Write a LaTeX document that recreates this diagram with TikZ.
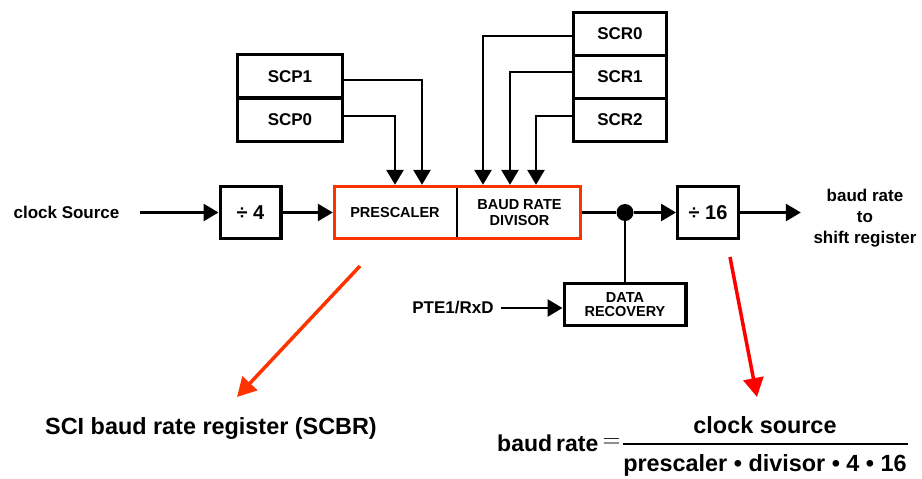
\documentclass[tikz,border=0pt]{standalone}
\usepackage{fontspec}
\setmainfont{Liberation Sans}
\usetikzlibrary{arrows.meta,fit}
\definecolor{orred}{HTML}{FF3300}
\newcommand{\fsz}[2]{\fontsize{#1}{#2}\selectfont}
\begin{document}
\begin{tikzpicture}[x=1pt,y=-1pt,
  box/.style={draw, line width=3.2pt, inner sep=0pt, font=\bfseries\fsz{17pt}{20pt}},
  lbl/.style={inner sep=0pt, font=\bfseries\fsz{17pt}{20pt}},
  conn/.style={line width=2.8pt},
  arr/.style={conn, -{Triangle[length=15pt,width=17pt]}},
  redarr/.style={line width=3.5pt, -{Triangle[length=19pt,width=20pt]}},
]
\useasboundingbox (0,0) rectangle (922,479);

% input chain
\node[lbl] (clk) at (66.5,212.5) {clock Source};
\node[box, minimum width=60.8pt, minimum height=51.8pt, font=\bfseries\fsz{20pt}{22pt}] (d4) at (250.5,212.5) {÷ 4};
\draw[arr] ([xshift=20pt]clk.east) -- (d4.west);

% prescaler / baud rate divisor
\node[minimum width=124pt, minimum height=55pt, inner sep=0pt, font=\bfseries\fsz{14.5pt}{16.5pt}] (pre) at (395,212.5) {PRESCALER};
\node[minimum width=125pt, minimum height=55pt, inner sep=0pt, align=center, font=\bfseries\fsz{14.5pt}{16.5pt}] (brd) at (519.5,212.5) {BAUD RATE\\DIVISOR};
\node[draw=orred, line width=3.2pt, fit=(pre)(brd), inner sep=-1.6pt] (sel) {};
\draw[line width=2.5pt, shorten <=3pt, shorten >=3pt] (pre.north east) -- (pre.south east);
\draw[arr] (d4.east) -- (pre.west);

% registers
\node[box, minimum width=104.8pt, minimum height=43.4pt] (scp1) at (290,76.3) {SCP1};
\node[box, minimum width=104.8pt, minimum height=43.4pt] (scp0) at (290,119.7) {SCP0};
\node[box, minimum width=92.8pt, minimum height=42.9pt] (scr0) at (620,34.05) {SCR0};
\node[box, minimum width=92.8pt, minimum height=42.9pt] (scr1) at (620,76.95) {SCR1};
\node[box, minimum width=92.8pt, minimum height=42.9pt] (scr2) at (620,119.85) {SCR2};

\draw[arr] ([yshift=-3.7pt]scp1.east) -| ([xshift=27pt]pre.north);
\draw[arr] ([yshift=3.7pt]scp0.east) -| (pre.north);
\draw[arr] ([yshift=-2pt]scr0.west) -| ([xshift=-36.5pt]brd.north);
\draw[arr] ([yshift=5pt]scr1.west) -| ([xshift=-9.5pt]brd.north);
\draw[arr] ([yshift=3.85pt]scr2.west) -| ([xshift=16.5pt]brd.north);

% output
\node[circle, fill, inner sep=0pt, minimum size=17pt] (dot) at (625,212.5) {};
\node[box, minimum width=60.8pt, minimum height=51.8pt, font=\bfseries\fsz{20pt}{22pt}] (d16) at (708,212.5) {÷ 16};
\node[lbl, align=center, inner xsep=12.5pt, font=\bfseries\fsz{17pt}{21pt}] (out) at (865,218) {baud rate\\to\\shift register};
\draw[conn] (sel.east) -- (dot);
\draw[arr] (dot) -- (d16.west);
\draw[arr] (d16.east) -- (d16.east -| out.west);

% data recovery
\node[box, minimum width=121.8pt, minimum height=41.8pt, align=center, font=\bfseries\fsz{14.5pt}{13.5pt}] (dr) at (625,304.5) {DATA\\RECOVERY};
\node[lbl, inner xsep=7pt] (pte) at (453,308) {PTE1/RxD};
\draw[conn] (dot) -- (dr.north);
\draw[arr] (pte.east) -- (pte.east -| dr.west);

% annotations
\coordinate (r1s) at (360,266);
\coordinate (r1e) at (237,397);
\draw[redarr, orred] (r1s) -- (r1e);
\coordinate (r2s) at (730,257);
\coordinate (r2e) at (757,397);
\draw[redarr, red] (r2s) -- (r2e);

\node[lbl, font=\bfseries\fsz{23.4pt}{26pt}] (sci) at (211,428) {SCI baud rate register (SCBR)};

\node[lbl, anchor=west, font=\bfseries\fsz{23pt}{26pt}] (br) at (497,443) {baud\hspace{4pt}rate};
\node[lbl, font=\fsz{23.4pt}{26pt}] (eq) at (611.5,443) {$=$};
\node[lbl, font=\bfseries\fsz{23.4pt}{26pt}] (num) at (765,425) {clock source};
\node[lbl, font=\bfseries\fsz{23.4pt}{26pt}] (den) at (765,465) {prescaler • divisor • 4 • 16};
\draw[line width=1.4pt] (623,444) -- (908,444);
\end{tikzpicture}
\end{document}
